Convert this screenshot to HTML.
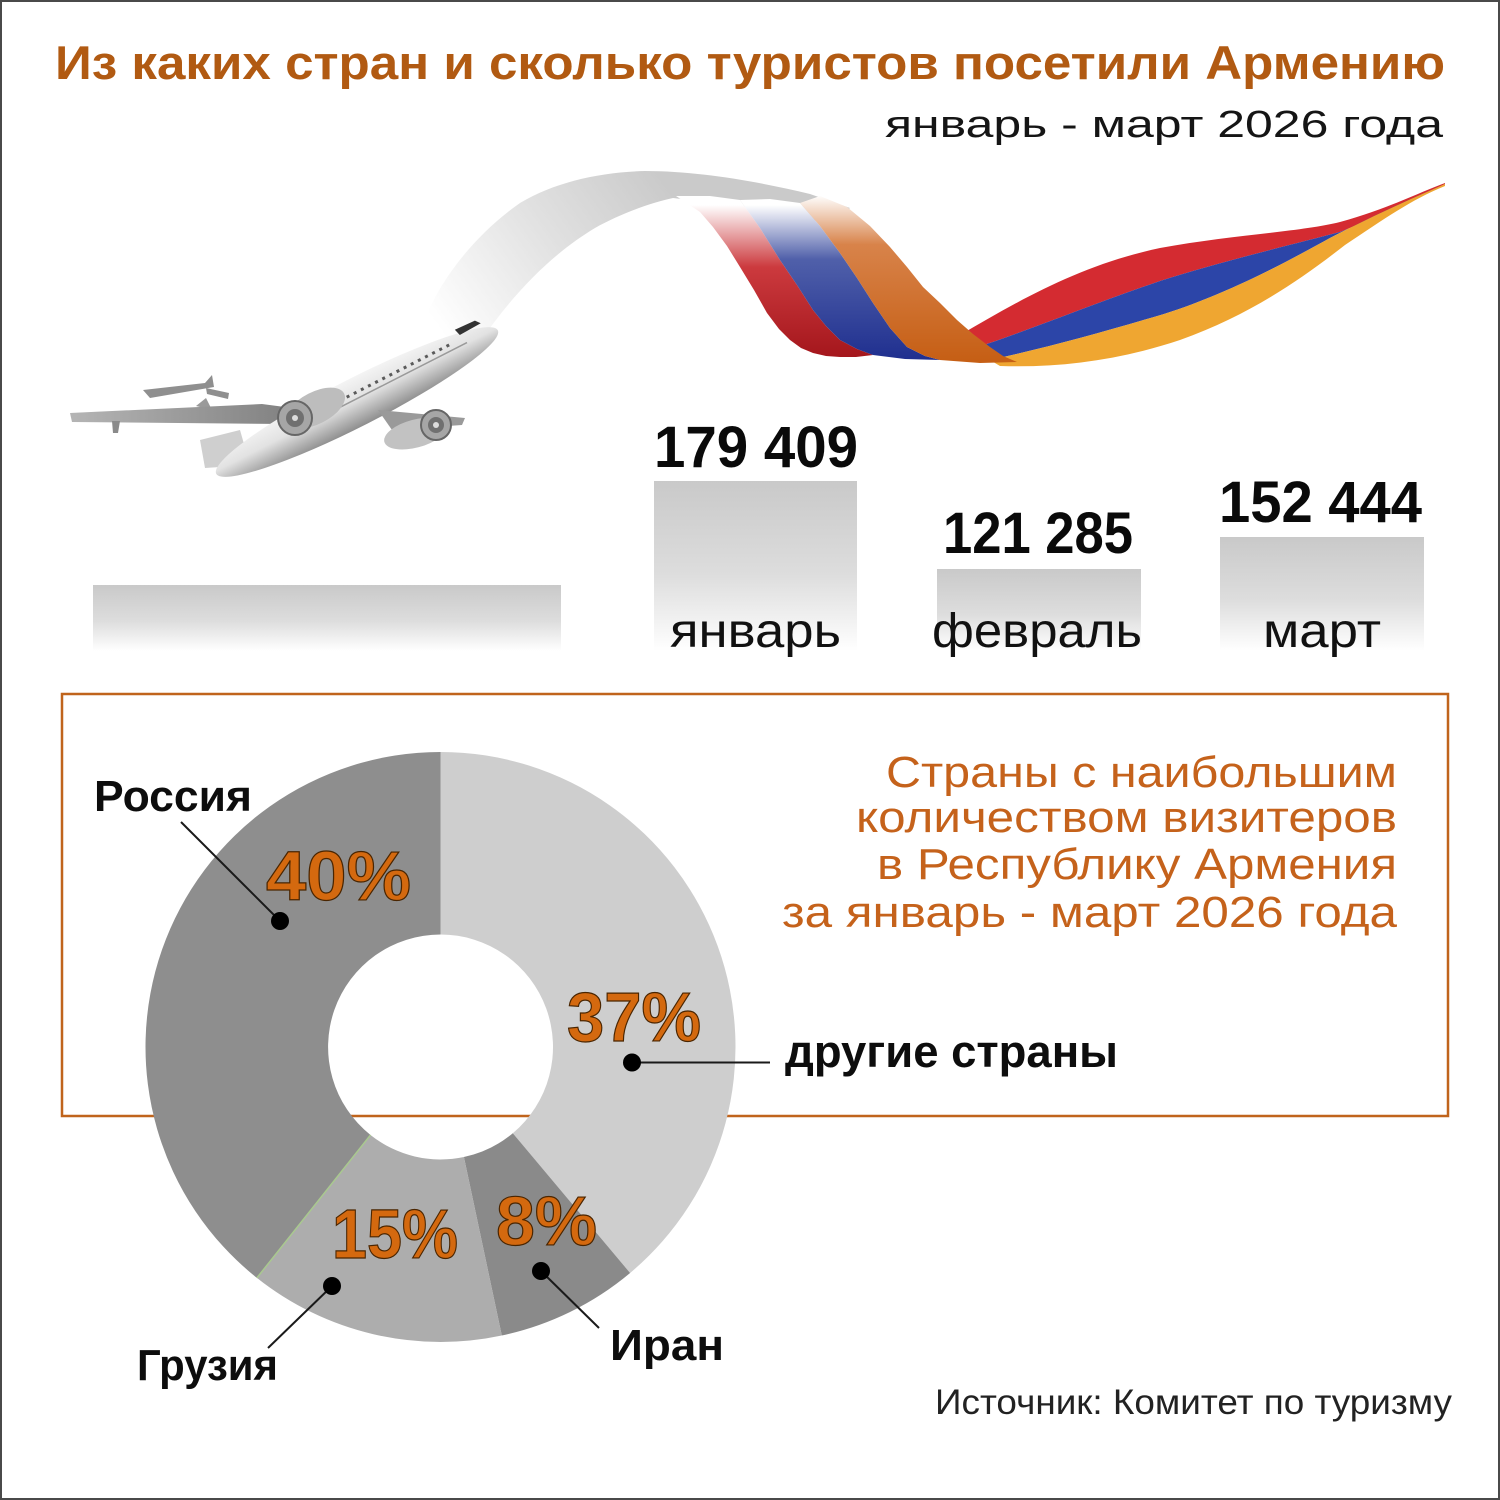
<!DOCTYPE html>
<html>
<head>
<meta charset="utf-8">
<style>
html,body{margin:0;padding:0;background:#fff;}
body{width:1500px;height:1500px;overflow:hidden;}
svg{display:block;}
text{font-family:"Liberation Sans","Noto Sans CJK SC",sans-serif;}
</style>
</head>
<body>
<svg width="1500" height="1500" viewBox="0 0 1500 1500" xmlns="http://www.w3.org/2000/svg">
<defs>
  <linearGradient id="bar" x1="0" y1="0" x2="0" y2="1">
    <stop offset="0" stop-color="#c9c9c9"/>
    <stop offset="0.55" stop-color="#dddddd"/>
    <stop offset="1" stop-color="#ffffff"/>
  </linearGradient>
  <linearGradient id="trail" gradientUnits="userSpaceOnUse" x1="660" y1="175" x2="440" y2="330">
    <stop offset="0" stop-color="#cacaca"/>
    <stop offset="0.45" stop-color="#e0e0e0"/>
    <stop offset="1" stop-color="#ffffff"/>
  </linearGradient>
  <linearGradient id="redD" gradientUnits="userSpaceOnUse" x1="0" y1="205" x2="0" y2="360">
    <stop offset="0" stop-color="#ffffff"/>
    <stop offset="0.4" stop-color="#cc3a3e"/>
    <stop offset="1" stop-color="#a3151b"/>
  </linearGradient>
  <linearGradient id="blueD" gradientUnits="userSpaceOnUse" x1="0" y1="205" x2="0" y2="360">
    <stop offset="0" stop-color="#ffffff"/>
    <stop offset="0.35" stop-color="#5060aa"/>
    <stop offset="1" stop-color="#1f2f8f"/>
  </linearGradient>
  <linearGradient id="orD" gradientUnits="userSpaceOnUse" x1="0" y1="195" x2="0" y2="360">
    <stop offset="0" stop-color="#ffffff"/>
    <stop offset="0.3" stop-color="#d8834a"/>
    <stop offset="1" stop-color="#c65f15"/>
  </linearGradient>
  <linearGradient id="fus" x1="0" y1="0" x2="0" y2="1">
    <stop offset="0" stop-color="#f4f4f4"/>
    <stop offset="0.45" stop-color="#e2e2e2"/>
    <stop offset="1" stop-color="#8e8e8e"/>
  </linearGradient>
  <linearGradient id="wing" x1="0" y1="0" x2="1" y2="0">
    <stop offset="0" stop-color="#b5b5b5"/>
    <stop offset="1" stop-color="#7f7f7f"/>
  </linearGradient>
</defs>

<!-- background & border -->
<rect x="1" y="1" width="1498" height="1498" fill="#ffffff" stroke="#4a4a4a" stroke-width="2"/>

<!-- Title -->
<text x="55" y="79" font-size="47" font-weight="bold" fill="#b15a12" textLength="1390" lengthAdjust="spacingAndGlyphs">Из каких стран и сколько туристов посетили Армению</text>
<text x="885" y="137" font-size="38" fill="#151515" textLength="558" lengthAdjust="spacingAndGlyphs">январь - март 2026 года</text>

<!-- Ribbon: rising part (behind) -->
<path fill="#d42b31" d="M960,335 C1020,300 1080,265 1160,248 C1230,235 1300,232 1340,222 C1390,208 1420,192 1445,183 L1445,184 C1410,200 1380,216 1340,232 C1290,245 1220,262 1160,281 C1090,305 1030,330 975,348 Z"/>
<path fill="#2c45a8" d="M975,348 C1030,330 1090,305 1160,281 C1220,262 1290,245 1340,232 C1380,216 1410,200 1445,184 C1420,195 1380,212 1330,238 C1290,260 1230,293 1164,314 C1110,330 1050,347 990,360 Z"/>
<path fill="#efa631" d="M990,360 C1050,347 1110,330 1164,314 C1230,293 1290,260 1330,238 C1380,212 1420,195 1445,184 L1445,186 C1410,200 1380,222 1345,245 C1300,280 1250,315 1180,340 C1120,360 1060,368 1000,366 Z"/>

<!-- white trail -->
<path fill="url(#trail)" d="M418,338 C432,290 470,238 520,203 C555,182 600,172 645,171 C700,171 760,182 810,194 L850,208 L830,225 C790,212 740,205 690,200 L673,198 C650,203 620,214 595,228 C555,252 515,290 478,345 Z"/>

<!-- Ribbon: descending part -->
<polygon fill="url(#redD)" points="676,196 700,212 713,227 727,246 740,267 754,290 767,313 779,329 790,340 801,348 813,353 826,356 840,357 856,357 873,355 857,349 840,340 826,326 813,310 797,285 780,260 760,228 740,200 710,196"/>
<polygon fill="url(#blueD)" points="740,200 760,228 780,260 797,285 813,310 826,326 840,340 857,349 873,355 905,359 940,360 925,356 907,347 890,328 873,303 857,278 840,253 820,226 800,203 770,199"/>
<polygon fill="url(#orD)" points="800,203 820,226 840,253 857,278 873,303 890,328 907,347 925,356 940,360 980,363 1017,362 1003,356 990,347 973,334 957,320 940,303 923,287 907,267 890,247 870,226 847,207 820,196"/>

<!-- Plane -->
<g>
  <polygon fill="#8f8f8f" points="143,390 205,383 212,375 214,387 150,398"/>
  <polygon fill="#8f8f8f" points="206,388 229,393 228,399 207,394"/>
  <polygon fill="#9a9a9a" points="196,406 206,398 212,410"/>
  <polygon fill="url(#wing)" points="70,413 262,404 300,409 286,424 72,422"/>
  <polygon fill="#8a8a8a" points="112,421 120,421 118,433 113,433"/>
  <polygon fill="#cfcfcf" points="200,440 240,430 250,465 205,468"/>
  <g transform="translate(357,402) rotate(-27)">
    <ellipse cx="0" cy="0" rx="158" ry="24" fill="url(#fus)"/>
    <line x1="-55" y1="-9" x2="110" y2="-9" stroke="#5a5a5a" stroke-width="3" stroke-dasharray="3 5"/>
    <line x1="-60" y1="-3" x2="125" y2="-3" stroke="#9a9a9a" stroke-width="1.5"/>
    <polygon fill="#333" points="120,-20 142,-19 146,-14 122,-13"/>
  </g>
  <polygon fill="#9a9a9a" points="378,410 465,418 462,425 392,430"/>
  <g transform="translate(296,418) rotate(-27)">
    <ellipse cx="22" cy="0" rx="32" ry="16" fill="#bdbdbd"/>
  </g>
  <circle cx="295" cy="418" r="17" fill="#a6a6a6" stroke="#666" stroke-width="2"/>
  <circle cx="295" cy="418" r="9" fill="#707070"/>
  <circle cx="295" cy="418" r="3" fill="#dcdcdc"/>
  <g transform="translate(436,426) rotate(-15)">
    <ellipse cx="-22" cy="2" rx="32" ry="14" fill="#c2c2c2"/>
  </g>
  <circle cx="436" cy="425" r="15" fill="#a6a6a6" stroke="#666" stroke-width="2"/>
  <circle cx="436" cy="425" r="8" fill="#707070"/>
  <circle cx="436" cy="425" r="3" fill="#dcdcdc"/>
</g>

<!-- Bars -->
<rect x="93" y="585" width="468" height="66" fill="url(#bar)"/>
<rect x="654" y="481" width="203" height="170" fill="url(#bar)"/>
<rect x="937" y="569" width="204" height="82" fill="url(#bar)"/>
<rect x="1220" y="537" width="204" height="114" fill="url(#bar)"/>

<text x="654" y="467" font-size="58" font-weight="bold" fill="#0a0a0a" textLength="204" lengthAdjust="spacingAndGlyphs">179 409</text>
<text x="943" y="553" font-size="58" font-weight="bold" fill="#0a0a0a" textLength="190" lengthAdjust="spacingAndGlyphs">121 285</text>
<text x="1219" y="522" font-size="58" font-weight="bold" fill="#0a0a0a" textLength="203" lengthAdjust="spacingAndGlyphs">152 444</text>

<text x="670" y="647" font-size="48" fill="#111" textLength="171" lengthAdjust="spacingAndGlyphs">январь</text>
<text x="932" y="647" font-size="48" fill="#111" textLength="210" lengthAdjust="spacingAndGlyphs">февраль</text>
<text x="1263" y="647" font-size="48" fill="#111" textLength="118" lengthAdjust="spacingAndGlyphs">март</text>

<!-- Orange box -->
<rect x="62" y="694" width="1386" height="422" fill="none" stroke="#c0641c" stroke-width="2.5"/>

<text x="886" y="787" font-size="44" fill="#c5621b" textLength="511" lengthAdjust="spacingAndGlyphs">Страны с наибольшим</text>
<text x="856" y="832" font-size="44" fill="#c5621b" textLength="541" lengthAdjust="spacingAndGlyphs">количеством визитеров</text>
<text x="877" y="879" font-size="44" fill="#c5621b" textLength="520" lengthAdjust="spacingAndGlyphs">в Республику Армения</text>
<text x="782" y="927" font-size="44" fill="#c5621b" textLength="615" lengthAdjust="spacingAndGlyphs">за январь - март 2026 года</text>

<!-- Donut -->
<path fill="#cecece" d="M440.5 752 A295 295 0 0 1 630.1 1273 L512.8 1133.2 A112.5 112.5 0 0 0 440.5 934.5 Z"/>
<path fill="#8a8a8a" d="M630.1 1273 A295 295 0 0 1 501.8 1335.5 L463.9 1157 A112.5 112.5 0 0 0 512.8 1133.2 Z"/>
<path fill="#adadad" d="M501.8 1335.5 A295 295 0 0 1 256.9 1277.9 L370.5 1135 A112.5 112.5 0 0 0 463.9 1157 Z"/>
<path fill="#8e8e8e" d="M256.9 1277.9 A295 295 0 0 1 440.5 752 L440.5 934.5 A112.5 112.5 0 0 0 370.5 1135 Z"/>
<line x1="256.9" y1="1277.9" x2="370.5" y2="1135" stroke="#a9c98f" stroke-width="1.5"/>

<!-- percentages -->
<g font-size="70" font-weight="bold" fill="#d4690f" stroke="#4a2500" stroke-width="1.2">
  <text x="266" y="900" textLength="145" lengthAdjust="spacingAndGlyphs">40%</text>
  <text x="567" y="1041" textLength="134" lengthAdjust="spacingAndGlyphs">37%</text>
  <text x="332" y="1258" textLength="126" lengthAdjust="spacingAndGlyphs">15%</text>
  <text x="496" y="1245" textLength="101" lengthAdjust="spacingAndGlyphs">8%</text>
</g>

<!-- leader lines -->
<g stroke="#1a1a1a" stroke-width="2" fill="none">
  <line x1="181" y1="822" x2="280" y2="921"/>
  <line x1="632" y1="1062.5" x2="770" y2="1062.5"/>
  <line x1="332" y1="1286" x2="268" y2="1348"/>
  <line x1="541" y1="1271" x2="599" y2="1328"/>
</g>
<g fill="#000">
  <circle cx="280" cy="921" r="9"/>
  <circle cx="632" cy="1062.5" r="9"/>
  <circle cx="332" cy="1286" r="9"/>
  <circle cx="541" cy="1271" r="9"/>
</g>

<!-- country labels -->
<g font-size="44" font-weight="bold" fill="#0d0d0d">
  <text x="94" y="811" textLength="158" lengthAdjust="spacingAndGlyphs">Россия</text>
  <text x="785" y="1067" font-size="45" textLength="333" lengthAdjust="spacingAndGlyphs">другие страны</text>
  <text x="137" y="1380" textLength="141" lengthAdjust="spacingAndGlyphs">Грузия</text>
  <text x="610" y="1360" textLength="114" lengthAdjust="spacingAndGlyphs">Иран</text>
</g>

<!-- source -->
<text x="935" y="1414" font-size="35" fill="#222" textLength="517" lengthAdjust="spacingAndGlyphs">Источник: Комитет по туризму</text>
</svg>
</body>
</html>
